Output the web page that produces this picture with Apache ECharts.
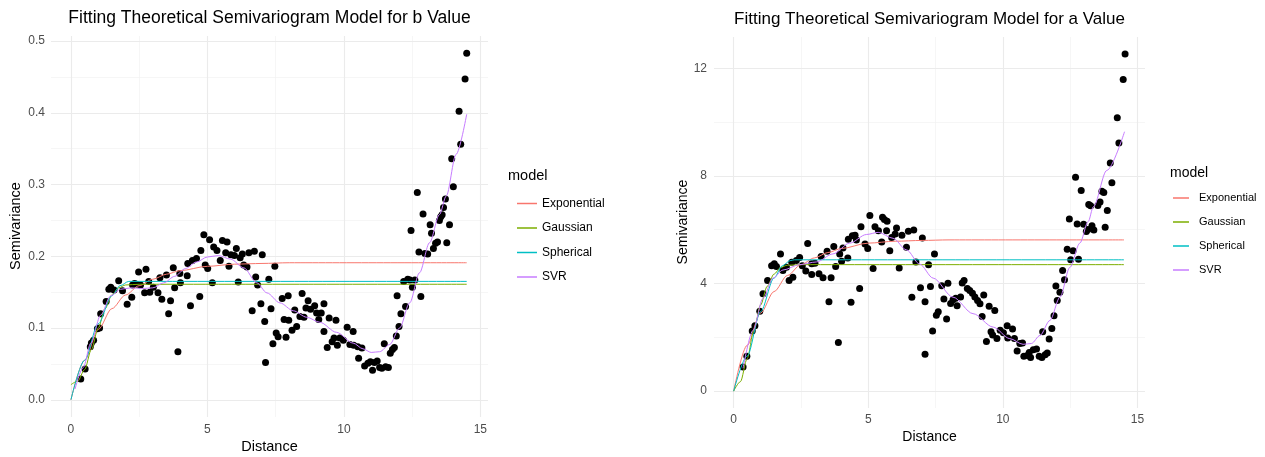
<!DOCTYPE html>
<html>
<head>
<meta charset="utf-8">
<script src="https://cdn.jsdelivr.net/npm/echarts@6/dist/echarts.min.js"></script>
<style>html,body{margin:0;padding:0;background:#fff}#c{width:1265px;height:457px}</style>
</head>
<body>
<div id="c"></div>
<script>
// ---------- Panel 1: b value ----------
const bDist = [0.36,0.52,0.71,0.75,0.83,0.97,1.05,1.09,1.29,1.39,1.46,1.58,1.75,1.89,2.06,2.23,2.26,2.33,2.40,2.48,2.55,2.70,2.75,2.85,2.89,3.02,3.19,3.26,3.33,3.50,3.58,3.65,3.75,3.80,3.92,3.99,4.01,4.26,4.28,4.38,4.45,4.60,4.72,4.76,4.87,4.92,5.01,5.08,5.18,5.23,5.35,5.47,5.55,5.67,5.72,5.79,5.86,5.99,6.06,6.13,6.20,6.28,6.33,6.45,6.52,6.64,6.72,6.77,6.84,6.96,7.01,7.10,7.13,7.25,7.33,7.40,7.47,7.52,7.59,7.74,7.81,7.88,7.96,7.98,8.10,8.20,8.27,8.39,8.47,8.54,8.61,8.69,8.78,8.93,9.00,9.08,9.17,9.27,9.27,9.39,9.46,9.57,9.64,9.71,9.76,9.85,9.98,10.12,10.22,10.34,10.36,10.51,10.54,10.66,10.76,10.88,10.97,11.05,11.12,11.22,11.31,11.39,11.48,11.53,11.63,11.70,11.78,11.85,11.92,11.95,12.02,12.09,12.19,12.26,12.34,12.42,12.46,12.51,12.60,12.69,12.75,12.82,12.90,12.97,13.07,13.16,13.21,13.28,13.36,13.43,13.50,13.55,13.60,13.65,13.72,13.77,13.87,13.95,14.01,14.22,14.28,14.44,14.50];
const bGamma = [0.029,0.043,0.074,0.079,0.083,0.099,0.100,0.120,0.137,0.154,0.157,0.153,0.166,0.152,0.133,0.143,0.160,0.162,0.161,0.178,0.160,0.149,0.182,0.165,0.150,0.157,0.149,0.170,0.140,0.174,0.120,0.138,0.184,0.156,0.067,0.176,0.163,0.173,0.190,0.131,0.194,0.197,0.144,0.208,0.230,0.188,0.183,0.223,0.163,0.213,0.208,0.194,0.222,0.205,0.220,0.186,0.202,0.201,0.211,0.164,0.198,0.203,0.188,0.185,0.205,0.124,0.207,0.171,0.160,0.134,0.202,0.109,0.052,0.168,0.127,0.078,0.186,0.093,0.088,0.141,0.112,0.087,0.145,0.111,0.097,0.125,0.102,0.116,0.148,0.115,0.128,0.138,0.126,0.131,0.121,0.112,0.121,0.134,0.095,0.073,0.114,0.081,0.086,0.111,0.076,0.086,0.083,0.101,0.077,0.095,0.076,0.074,0.058,0.072,0.047,0.051,0.053,0.041,0.052,0.054,0.045,0.044,0.078,0.046,0.045,0.065,0.070,0.073,0.089,0.145,0.102,0.120,0.165,0.130,0.168,0.167,0.236,0.157,0.167,0.289,0.206,0.144,0.259,0.204,0.203,0.244,0.232,0.211,0.218,0.220,0.250,0.255,0.258,0.268,0.280,0.219,0.244,0.336,0.297,0.402,0.356,0.447,0.483];

const bExpDist  = [0,0.5,1,1.5,2,2.5,3,3.5,4,5,6,7,8,14.5];
const bExpGamma = [0,0.055,0.098,0.127,0.146,0.159,0.168,0.175,0.180,0.186,0.189,0.190,0.191,0.191];
const bGauDist  = [0,0.25,0.5,0.75,1,1.25,1.5,1.75,2,2.5,14.5];
const bGauGamma = [0.021,0.026,0.042,0.070,0.100,0.127,0.146,0.156,0.160,0.161,0.161];
const bSphDist  = [0,0.5,1,1.5,1.8,2.12,14.5];
const bSphGamma = [0,0.055,0.106,0.145,0.159,0.165,0.165];
const bSvrDist  = [0.15,0.45,0.73,1.09,1.46,1.82,2.2,2.6,3.0,3.4,3.8,4.2,4.6,5.0,5.4,5.85,6.33,6.81,7.18,7.66,8.15,8.64,9.12,9.73,10.34,10.7,11.0,11.31,11.68,12.04,12.41,12.77,13.14,13.5,13.75,14.11,14.5];
const bSvrGamma = [0.015,0.045,0.079,0.118,0.145,0.154,0.156,0.155,0.156,0.163,0.172,0.183,0.192,0.199,0.201,0.196,0.184,0.163,0.149,0.135,0.124,0.115,0.108,0.094,0.079,0.071,0.066,0.067,0.077,0.100,0.135,0.177,0.219,0.258,0.284,0.342,0.398];

// ---------- Panel 2: a value ----------
const aDist = [0.35,0.49,0.69,0.79,0.97,1.09,1.26,1.41,1.51,1.59,1.74,1.83,1.96,2.06,2.16,2.20,2.33,2.45,2.55,2.68,2.75,2.90,2.90,3.02,3.17,3.25,3.32,3.47,3.54,3.62,3.72,3.79,3.89,3.94,4.01,4.06,4.24,4.26,4.36,4.41,4.51,4.56,4.68,4.73,4.88,4.98,5.06,5.18,5.25,5.38,5.50,5.53,5.60,5.68,5.70,5.80,5.87,6.00,6.05,6.15,6.25,6.42,6.49,6.62,6.69,6.77,6.94,7.01,7.11,7.11,7.24,7.31,7.39,7.46,7.53,7.60,7.73,7.81,7.91,7.96,8.06,8.15,8.25,8.30,8.43,8.49,8.56,8.68,8.77,8.87,8.96,9.06,9.15,9.23,9.29,9.39,9.49,9.56,9.62,9.70,9.78,9.90,10.02,10.16,10.18,10.36,10.43,10.53,10.63,10.73,10.78,10.91,10.98,11.03,11.13,11.25,11.35,11.45,11.48,11.57,11.65,11.72,11.82,11.90,11.97,12.02,12.12,12.22,12.29,12.39,12.47,12.52,12.61,12.70,12.76,12.81,12.91,13.00,13.10,13.16,13.19,13.26,13.31,13.38,13.53,13.61,13.68,13.75,13.80,13.88,13.99,14.05,14.25,14.31,14.47,14.54];
const aGamma = [0.90,1.30,2.23,2.43,2.97,3.62,4.11,4.66,4.73,4.63,5.10,4.48,4.60,4.11,4.79,4.23,4.85,4.97,4.66,4.46,5.49,4.73,4.33,4.75,4.36,5.00,4.21,5.20,3.32,4.21,5.37,4.63,1.81,5.10,4.83,5.32,4.95,5.64,3.30,5.77,5.79,5.62,3.81,6.11,5.47,5.30,6.53,4.56,6.11,5.96,5.54,6.46,6.38,5.96,6.31,5.22,5.71,5.84,6.06,4.58,5.79,5.35,5.94,3.49,5.99,4.80,3.84,5.69,3.32,1.37,4.70,3.89,2.23,5.10,2.82,2.95,3.92,3.42,2.68,4.01,3.26,3.40,3.45,3.17,3.50,4.02,4.11,3.81,3.74,3.64,3.50,3.37,3.25,2.77,3.57,1.84,3.15,2.21,2.09,3.00,1.96,2.26,2.17,2.43,1.97,2.31,1.96,1.49,1.77,1.79,1.30,1.32,1.44,1.25,1.54,1.57,1.30,1.25,2.21,1.35,1.42,1.94,2.33,2.80,3.91,3.37,3.67,4.48,4.14,5.27,6.40,4.88,5.22,7.95,6.21,4.90,7.46,6.20,5.93,6.01,6.94,6.89,6.15,5.99,6.90,7.03,7.43,7.38,6.09,6.71,8.48,7.74,10.16,9.22,11.58,12.53];

const aExpDist  = [0,0.5,1,1.5,2,2.5,3,3.5,4,5,6,7,8,14.5];
const aExpGamma = [0,1.70,2.90,3.70,4.30,4.70,4.95,5.15,5.30,5.50,5.57,5.60,5.62,5.62];
const aGauDist  = [0,0.25,0.5,0.75,1,1.25,1.5,1.75,2,2.5,14.5];
const aGauGamma = [0,0.35,1.20,2.25,3.20,3.90,4.35,4.60,4.68,4.70,4.70];
const aSphDist  = [0,0.5,1,1.5,1.8,2.1,2.25,14.5];
const aSphGamma = [0,1.30,2.95,4.20,4.65,4.85,4.88,4.88];
const aSvrDist  = [0.35,0.72,1.09,1.46,1.83,2.45,3.07,3.69,4.31,4.93,5.37,5.92,6.42,6.91,7.41,8.15,8.89,9.64,10.26,10.75,11.06,11.38,11.75,12.12,12.49,12.86,13.17,13.36,13.86,14.52];
const aSvrGamma = [0.85,2.26,3.45,4.20,4.50,4.70,4.80,5.10,5.50,5.82,5.90,5.68,5.25,4.72,4.20,3.49,2.88,2.38,1.95,1.74,1.77,2.07,2.63,3.49,4.60,5.50,6.30,6.85,8.20,9.64];

// ---------- Axis ticks ----------
const xTicks = [0, 5, 10, 15];
const xMinor = [2.5, 7.5, 12.5];
const bTicks = [0, 0.1, 0.2, 0.3, 0.4, 0.5];
const bMinor = [0.05, 0.15, 0.25, 0.35, 0.45];
const aTicks = [0, 4, 8, 12];
const aMinor = [2, 6, 10];

const modelNames = ['Exponential', 'Gaussian', 'Spherical', 'SVR'];
const modelColors = ['#F8766D', '#7CAE00', '#00BFC4', '#C77CFF'];

const zip = (xs, ys) => xs.map((x, i) => [x, ys[i]]);

const FONT = '"Liberation Sans", Arial, sans-serif';

function gridSeries(idx, yMaj, yMin) {
  const maj = { color: '#EBEBEB', width: 1.1, type: 'solid' };
  const mnr = { color: '#F2F2F2', width: 0.7, type: 'solid' };
  const data = [];
  xMinor.forEach(v => data.push({ xAxis: v, lineStyle: mnr }));
  yMin.forEach(v => data.push({ yAxis: v, lineStyle: mnr }));
  xTicks.forEach(v => data.push({ xAxis: v, lineStyle: maj }));
  yMaj.forEach(v => data.push({ yAxis: v, lineStyle: maj }));
  return {
    type: 'line', xAxisIndex: idx, yAxisIndex: idx, data: [], z: 0, silent: true,
    markLine: { silent: true, z: 0, symbol: 'none', label: { show: false }, animation: false, data: data }
  };
}

function lineSeries(idx, name, color, xs, ys) {
  return {
    type: 'line', name: name, xAxisIndex: idx, yAxisIndex: idx,
    data: zip(xs, ys), showSymbol: false, symbol: 'none', smooth: 0.3, smoothMonotone: 'x',
    lineStyle: { color: color, width: 1 }, itemStyle: { color: color }, z: 3
  };
}

const chart = echarts.init(document.getElementById('c'), null, { renderer: 'canvas' });

function xAxisDef(idx, margin) {
  return {
    type: 'value', gridIndex: idx, min: -0.73, max: 15.28,
    axisLine: { show: false }, axisTick: { show: false }, splitLine: { show: false },
    axisLabel: { customValues: xTicks, color: '#4D4D4D', fontSize: 12, fontFamily: FONT, margin: margin }
  };
}
function yAxisDef(idx, min, max, ticks, fmt, margin) {
  return {
    type: 'value', gridIndex: idx, min: min, max: max,
    axisLine: { show: false }, axisTick: { show: false }, splitLine: { show: false },
    axisLabel: { customValues: ticks, color: '#4D4D4D', fontSize: 12, fontFamily: FONT, margin: margin, formatter: fmt }
  };
}

const pointStyle = { color: '#000', opacity: 1, borderWidth: 0 };

const series = [
  gridSeries(0, bTicks, bMinor),
  gridSeries(1, aTicks, aMinor),
  { type: 'scatter', xAxisIndex: 0, yAxisIndex: 0, data: zip(bDist, bGamma), symbolSize: 7, itemStyle: pointStyle, z: 2 },
  { type: 'scatter', xAxisIndex: 1, yAxisIndex: 1, data: zip(aDist, aGamma), symbolSize: 7, itemStyle: pointStyle, z: 2 },
  lineSeries(0, 'Exponential', modelColors[0], bExpDist, bExpGamma),
  lineSeries(0, 'Gaussian', modelColors[1], bGauDist, bGauGamma),
  lineSeries(0, 'Spherical', modelColors[2], bSphDist, bSphGamma),
  lineSeries(0, 'SVR', modelColors[3], bSvrDist, bSvrGamma),
  lineSeries(1, 'Exponential', modelColors[0], aExpDist, aExpGamma),
  lineSeries(1, 'Gaussian', modelColors[1], aGauDist, aGauGamma),
  lineSeries(1, 'Spherical', modelColors[2], aSphDist, aSphGamma),
  lineSeries(1, 'SVR', modelColors[3], aSvrDist, aSvrGamma)
];

function txt(text, x, y, size, opts) {
  return Object.assign({
    type: 'text', x: x, y: y, silent: true,
    style: { text: text, fontSize: size, fontFamily: FONT, fill: '#000', align: 'center', verticalAlign: 'middle' }
  }, opts || {});
}

const option = {
  animation: false,
  backgroundColor: '#fff',
  grid: [
    { left: 51, top: 36, width: 437, height: 381, containLabel: false },
    { left: 714, top: 37, width: 431, height: 371, containLabel: false }
  ],
  xAxis: [xAxisDef(0, 7), xAxisDef(1, 6)],
  yAxis: [
    yAxisDef(0, -0.024, 0.507, bTicks, v => v.toFixed(1), 6),
    yAxisDef(1, -0.627, 13.16, aTicks, v => String(v), 7)
  ],
  legend: [
    { orient: 'vertical', left: 512, top: 191.5, itemWidth: 20, itemHeight: 1.5, itemGap: 10.5, icon: 'rect',
      data: modelNames, selectedMode: false,
      textStyle: { fontSize: 12, fontFamily: FONT, color: '#000', lineHeight: 14 } },
    { orient: 'vertical', left: 1168, top: 186, itemWidth: 16, itemHeight: 1.5, itemGap: 10, icon: 'rect',
      data: modelNames, selectedMode: false,
      textStyle: { fontSize: 11, fontFamily: FONT, color: '#000', lineHeight: 14, padding: [0, 0, 0, 5] } }
  ],
  graphic: [
    txt('Fitting Theoretical Semivariogram Model for b Value', 269.5, 18, 17.5),
    txt('Fitting Theoretical Semivariogram Model for a Value', 929.5, 19, 17),
    txt('Distance', 269.5, 447, 14.5),
    txt('Distance', 929.5, 437, 14),
    txt('Semivariance', 16, 226, 14.5, { rotation: Math.PI / 2 }),
    txt('Semivariance', 683, 222, 14, { rotation: Math.PI / 2 }),
    { type: 'text', x: 508, y: 176, silent: true, style: { text: 'model', fontSize: 14.5, fontFamily: FONT, fill: '#000', align: 'left', verticalAlign: 'middle' } },
    { type: 'text', x: 1170, y: 173, silent: true, style: { text: 'model', fontSize: 14, fontFamily: FONT, fill: '#000', align: 'left', verticalAlign: 'middle' } }
  ],
  series: series
};
chart.setOption(option);
</script>
</body>
</html>
